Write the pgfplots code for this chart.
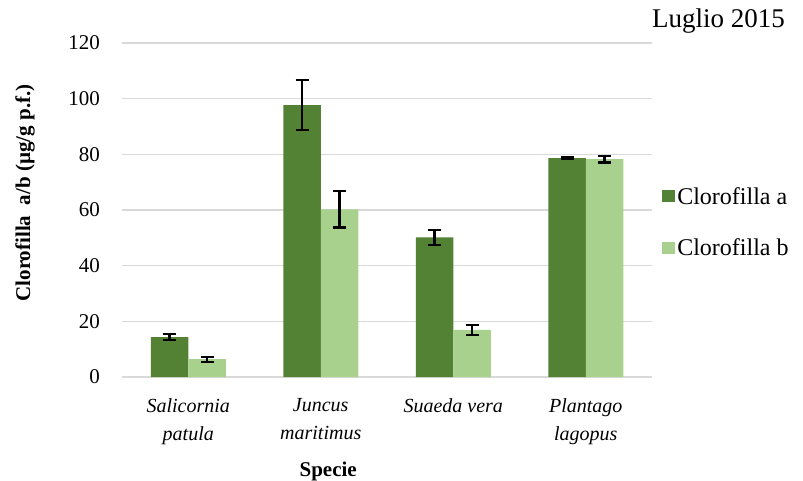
\documentclass[border=0pt]{standalone}
\usepackage{pgfplots}
\pgfplotsset{compat=1.18}
\usepackage{fontspec}
\setmainfont{Liberation Serif}

\definecolor{clA}{RGB}{84,130,53}
\definecolor{clB}{RGB}{169,209,142}
\definecolor{gridc}{RGB}{217,217,217}

\pgfplotsset{
  sqlegend/.style={legend image code/.code={\fill[##1] (0pt,-6pt) rectangle (13pt,6pt);}},
  errstyle/.style={error bars/.cd, y dir=both, y explicit,
    error bar style={draw=black, line width=2.2pt},
    error mark options={draw=black, line width=2.2pt, mark size=6.5pt, rotate=90}},
}

\begin{document}
\begin{tikzpicture}
\path[use as bounding box] (0,0) rectangle (803pt,480pt);
\begin{axis}[
  at={(122pt,103pt)}, anchor=south west,
  scale only axis, width=530pt, height=334pt,
  xmin=-0.5, xmax=3.5, ymin=0, ymax=120,
  ybar=0pt, bar width=37.5pt,
  axis line style={draw=none},
  major tick length=0pt,
  ytick={0,20,...,120},
  ymajorgrids, grid style={gridc, line width=1.5pt},
  xtick={0,1,2,3},
  xticklabels={{Salicornia\\patula},{Juncus\\maritimus},{Suaeda vera},{Plantago\\lagopus}},
  xticklabel style={align=center, anchor=north, inner sep=0pt, yshift=-21pt,
    font=\fontsize{20}{28}\selectfont\itshape},
  yticklabel style={anchor=east, inner sep=0pt, xshift=-22pt,
    font=\fontsize{21}{25}\selectfont},
  /pgf/number format/assume math mode=true,
  ylabel={Clorofilla\ \ a/b (µg/g p.f.)},
  ylabel style={at={(axis description cs:-0.183,0.551)}, anchor=center, inner sep=0pt,
    font=\fontsize{21}{25}\selectfont\bfseries},
  xlabel={Specie},
  xlabel style={at={(axis description cs:0.389,-0.299)}, anchor=base, inner sep=0pt,
    font=\fontsize{21}{25}\selectfont\bfseries},
  title={Luglio 2015},
  title style={at={(axis description cs:1.251,1.029)}, anchor=base east, inner sep=0pt,
    font=\fontsize{27}{30}\selectfont},
  legend style={draw=none, fill=none, at={(axis description cs:1.019,0.575)},
    anchor=north west, font=\fontsize{24}{28}\selectfont, row sep=29pt, inner sep=0pt,
    /tikz/every even column/.append style={column sep=5pt}},
  legend cell align=left,
]
% Clorofilla a
\addplot[fill=clA, draw=none, sqlegend, errstyle] coordinates {
  (0,14.3) +- (0,1.1)
  (1,97.7) +- (0,8.9)
  (2,50.2) +- (0,2.7)
  (3,78.6) +- (0,0.4)
};
% Clorofilla b
\addplot[fill=clB, draw=none, sqlegend, errstyle] coordinates {
  (0,6.4) +- (0,0.9)
  (1,60.2) +- (0,6.5)
  (2,16.9) +- (0,1.7)
  (3,78.3) +- (0,1.2)
};
\legend{Clorofilla a, Clorofilla b}
\end{axis}
\end{tikzpicture}
\end{document}
